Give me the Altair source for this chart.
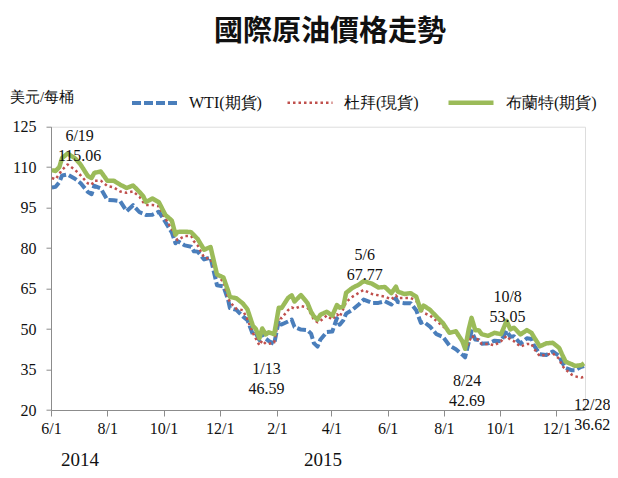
import altair as alt
import pandas as pd

# ---------------- data ----------------
dates = [
    "2014-06-02", "2014-06-06", "2014-06-10", "2014-06-13", "2014-06-19", "2014-06-27",
    "2014-07-03", "2014-07-11", "2014-07-15", "2014-07-18", "2014-07-25",
    "2014-08-01", "2014-08-08", "2014-08-15", "2014-08-22", "2014-08-29",
    "2014-09-05", "2014-09-09", "2014-09-12", "2014-09-19", "2014-09-26",
    "2014-10-03", "2014-10-10", "2014-10-14", "2014-10-16", "2014-10-24", "2014-10-31",
    "2014-11-03", "2014-11-07", "2014-11-14", "2014-11-21", "2014-11-28",
    "2014-12-05", "2014-12-10", "2014-12-12", "2014-12-19", "2014-12-26", "2014-12-31",
    "2015-01-06", "2015-01-09", "2015-01-13", "2015-01-16", "2015-01-20", "2015-01-23", "2015-01-29",
    "2015-02-03", "2015-02-06", "2015-02-13", "2015-02-17", "2015-02-20", "2015-02-27",
    "2015-03-06", "2015-03-10", "2015-03-13", "2015-03-17", "2015-03-20", "2015-03-27",
    "2015-04-02", "2015-04-07", "2015-04-10", "2015-04-14", "2015-04-17", "2015-04-24",
    "2015-05-01", "2015-05-06", "2015-05-15", "2015-05-22", "2015-05-29",
    "2015-06-05", "2015-06-10", "2015-06-12", "2015-06-19", "2015-06-26",
    "2015-07-02", "2015-07-07", "2015-07-10", "2015-07-17", "2015-07-24", "2015-07-31",
    "2015-08-07", "2015-08-14", "2015-08-21", "2015-08-24", "2015-08-28", "2015-08-31",
    "2015-09-04", "2015-09-08", "2015-09-11", "2015-09-18", "2015-09-25",
    "2015-10-02", "2015-10-08", "2015-10-12", "2015-10-16", "2015-10-23", "2015-10-30",
    "2015-11-04", "2015-11-06", "2015-11-13", "2015-11-20", "2015-11-27",
    "2015-12-04", "2015-12-07", "2015-12-11", "2015-12-18", "2015-12-21", "2015-12-28", "2015-12-31",
]

wti = [
    102.5, 102.7, 104.4, 106.9, 107.3, 105.7,
    104.1, 100.8, 100.0, 103.1, 102.1,
    97.9, 97.7, 97.4, 93.7, 95.9,
    93.3, 92.8, 92.3, 92.4, 93.5,
    89.7, 85.8, 81.8, 82.7, 81.0, 80.5,
    78.8, 78.7, 75.8, 76.5, 66.2,
    65.8, 60.9, 57.8, 57.1, 54.7, 53.3,
    47.9, 48.4, 45.9, 48.7, 46.4, 45.6, 44.5,
    53.1, 51.7, 52.8, 53.5, 50.8, 49.8,
    49.6, 48.3, 44.8, 43.5, 46.0, 48.9,
    49.1, 54.0, 51.6, 53.3, 55.7, 57.2,
    59.2, 60.9, 59.7, 59.7, 60.3,
    59.1, 61.4, 60.0, 59.6, 59.6,
    57.0, 52.3, 52.7, 50.9, 48.1, 47.1,
    43.9, 42.5, 40.5, 39.5, 45.2, 49.2,
    46.1, 45.9, 44.6, 44.7, 45.7,
    45.5, 49.4, 47.1, 47.3, 44.6, 46.6,
    46.3, 44.3, 40.7, 40.4, 41.7,
    40.0, 37.7, 35.6, 34.7, 34.7, 36.0, 36.3,
]

dubai = [
    106.0, 105.5, 107.5, 109.0, 111.0, 109.0,
    107.0, 104.0, 103.5, 105.0, 105.0,
    103.0, 102.5, 101.0, 100.5, 101.0,
    99.0, 97.0, 96.0, 96.0, 95.5,
    91.0, 87.0, 84.0, 83.0, 84.5, 84.5,
    82.5, 81.0, 76.5, 76.0, 70.0,
    67.5, 61.5, 60.0, 57.5, 57.0, 53.6,
    48.5, 46.5, 44.0, 45.8, 44.5, 44.5, 45.0,
    54.5, 54.0, 57.0, 58.0, 57.5, 58.5,
    58.0, 55.5, 53.5, 52.5, 53.0, 55.0,
    53.5, 55.5, 54.5, 57.5, 60.0, 62.0,
    63.5, 64.5, 63.0, 62.5, 62.0,
    61.0, 62.5, 61.5, 61.5, 61.5,
    60.5, 57.0, 56.0, 55.0, 53.0, 51.0,
    49.0, 48.5, 45.5, 42.5, 45.0, 47.5,
    46.5, 46.0, 44.5, 44.5, 44.0,
    45.5, 47.5, 46.0, 45.5, 43.5, 44.5,
    44.5, 43.0, 40.0, 40.5, 41.0,
    39.0, 36.5, 35.0, 33.0, 32.5, 32.0, 32.3,
]

brent = [
    108.9, 108.6, 110.0, 113.4, 115.06, 113.3,
    111.0, 106.7, 106.0, 107.9, 108.4,
    105.0, 105.0, 103.5, 102.3, 103.2,
    100.8, 99.2, 97.1, 98.4, 97.0,
    92.3, 90.2, 85.0, 86.0, 86.1, 85.9,
    84.8, 83.4, 79.4, 80.4, 70.2,
    69.1, 64.2, 61.9, 61.4, 59.5, 57.3,
    51.1, 50.1, 46.59, 50.2, 48.0, 48.8, 48.1,
    57.9, 57.8, 61.5, 62.5, 60.2, 62.6,
    59.7, 56.4, 54.7, 53.5, 55.3, 56.4,
    54.95, 58.9, 57.9, 58.4, 63.45, 65.3,
    66.5, 67.77, 66.8, 65.4, 65.6,
    63.3, 65.7, 63.9, 63.0, 63.3,
    62.0, 56.9, 58.7, 57.1, 54.6, 52.2,
    48.6, 49.2, 45.5, 42.69, 50.05, 54.15,
    49.6, 49.5, 48.1, 47.5, 48.6,
    48.1, 53.05, 49.9, 50.5, 48.0, 49.6,
    48.6, 47.4, 43.6, 44.7, 44.9,
    43.0, 40.7, 37.9, 36.9, 36.35, 36.62, 37.3,
]

series_names = ["WTI(期貨)", "杜拜(現貨)", "布蘭特(期貨)"]
series_colors = ["#4A7EBB", "#C0504D", "#9BBB59"]

y_ticks = [20, 35, 50, 65, 80, 95, 110, 125]
x_tick_months = [(2014, 6), (2014, 8), (2014, 10), (2014, 12), (2015, 2),
                 (2015, 4), (2015, 6), (2015, 8), (2015, 10), (2015, 12)]

ann_dates = ["2014-06-19", "2015-01-13", "2015-05-06", "2015-08-24", "2015-10-08", "2015-12-28"]
ann_values = [115.06, 46.59, 67.77, 42.69, 53.05, 36.62]
ann_labels = ["6/19", "1/13", "5/6", "8/24", "10/8", "12/28"]

title_text = "國際原油價格走勢"
unit_text = "美元/每桶"
years = ["2014", "2015"]

assert len(dates) == len(wti) == len(dubai) == len(brent)

# ---------------- tables ----------------
rows = []
for name, vals in zip(series_names, [wti, dubai, brent]):
    for d, v in zip(dates, vals):
        rows.append({"date": d + "T00:00:00", "price": v, "series": name})
df = pd.DataFrame(rows)

ann_df = pd.DataFrame({
    "date": [d + "T00:00:00" for d in ann_dates],
    "price": ann_values,
    "label": [f"{l}\n{v:.2f}" for l, v in zip(ann_labels, ann_values)],
})

SERIF = "Liberation Serif"
INK = "#111111"
AXIS_GREY = "#8C8C8C"

x_scale = alt.Scale(domain=[alt.DateTime(year=2014, month=6, date=1),
                            alt.DateTime(year=2016, month=1, date=1)])
y_scale = alt.Scale(domain=[20, 125], nice=False, zero=False)

x_enc = alt.X("date:T", scale=x_scale, title=None,
              axis=alt.Axis(values=[alt.DateTime(year=y, month=m, date=1) for y, m in x_tick_months],
                            format="%-m/%-d", tickSize=6, labelPadding=4, grid=False,
                            labelFlush=False))
y_enc = alt.Y("price:Q", scale=y_scale, title=None,
              axis=alt.Axis(values=y_ticks, tickSize=5, labelPadding=10, grid=False))

lines = alt.Chart(df).mark_line(strokeCap="butt", strokeJoin="round").encode(
    x=x_enc,
    y=y_enc,
    color=alt.Color("series:N", scale=alt.Scale(domain=series_names, range=series_colors),
                    legend=alt.Legend(orient="none", legendX=79, legendY=-49, direction="horizontal",
                                      title=None, symbolType="stroke", symbolSize=2025,
                                      columnPadding=20, labelOffset=10)),
    strokeDash=alt.StrokeDash("series:N", scale=alt.Scale(domain=series_names,
                                                          range=[[9, 3], [2.5, 3], [1, 0]])),
    strokeWidth=alt.StrokeWidth("series:N", scale=alt.Scale(type="ordinal", domain=series_names,
                                                            range=[4, 2.5, 4.5])),
    order=alt.Order("date:T"),
)


def ann_layer(i, dx, dy):
    sub = ann_df.iloc[[i]]
    return alt.Chart(sub).mark_text(font=SERIF, fontSize=16, color=INK, lineBreak="\n",
                                    lineHeight=20, baseline="middle", align="center",
                                    dx=dx, dy=dy).encode(
        x=alt.X("date:T", scale=x_scale), y=alt.Y("price:Q", scale=y_scale), text="label:N")


anns = [
    ann_layer(0, 12, -18),
    ann_layer(1, 7, 31),
    ann_layer(2, 1, -26),
    ann_layer(3, 2, 32),
    ann_layer(4, 1, -24),
    ann_layer(5, 11, 40),
]


def free_text(txt, x, y, size, font=SERIF, weight="normal", align="center"):
    return alt.Chart(pd.DataFrame({"t": [txt]})).mark_text(
        font=font, fontSize=size, fontWeight=weight, color=INK,
        align=align, baseline="middle").encode(x=alt.value(x), y=alt.value(y), text="t:N")


title = free_text(title_text, 279, -94.5, 29, font="Noto Sans CJK TC", weight="bold")
unit = free_text(unit_text, -41, -29.7, 15, align="left")
year_a = free_text(years[0], 29, 333, 19)
year_b = free_text(years[1], 272, 333, 19)

chart = alt.layer(lines, *anns, title, unit, year_a, year_b).properties(
    width=534, height=283.3,
    padding={"left": 43, "top": 118.7, "right": 25, "bottom": 59},
    autosize=alt.AutoSizeParams(type="none"),
).configure_view(stroke=None).configure(background="white").configure_axis(
    labelFont=SERIF, labelFontSize=16, labelColor=INK,
    domainColor=AXIS_GREY, tickColor=AXIS_GREY,
).configure_legend(
    labelFont=SERIF, labelFontSize=16, labelColor=INK,
)

chart.save("out.html", embed_options={"renderer": "svg", "actions": False})
